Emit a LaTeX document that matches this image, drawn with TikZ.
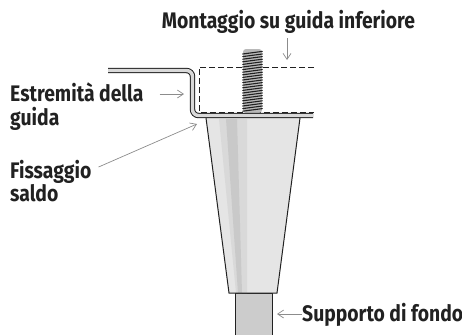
\documentclass[tikz,border=0pt]{standalone}
\usepackage{fontspec}
\setmainfont[FakeStretch=0.86]{Fira Sans}
\usetikzlibrary{arrows.meta}
\tikzset{>={Straight Barb[length=6pt, width=8pt]}}
\definecolor{ink}{gray}{.13}
\definecolor{conelight}{gray}{.9}
\definecolor{conemid}{gray}{.85}
\definecolor{conedark}{gray}{.79}
\definecolor{pipegray}{gray}{.8}
\definecolor{callgray}{gray}{.55}
\tikzset{
    label/.style={inner sep=0pt, font=\bfseries\fontsize{22.5}{23.5}\selectfont, text=ink, align=left},
    callout/.style={callgray, line width=.7pt},
}

\begin{document}
\begin{tikzpicture}[x=1pt, y=-1pt]
    \useasboundingbox(0, 0)rectangle(462, 335);
    % leg
    \fill[pipegray](235, 293)rectangle(272, 335);
    \draw[ink, line width=1pt](235, 335)--(235, 293)--(272, 293)--(272, 335);
    \fill[conelight](206, 118)--(300, 118)--(277, 293)--(229, 293)--cycle;
    \fill[conemid](219, 119)--(247, 119)--(247, 293)--(236, 293)--cycle;
    \fill[conedark](226, 119)--(237, 119)--(242, 293)--(238, 293)--cycle;
    \draw[ink, line width=1pt](206, 118)--(229, 293)--(277, 293)--(300, 118);
    % guide
    \draw[dash pattern=on 6pt off 3pt, ink, line width=.7pt](314, 67)--(199, 67)--(199, 112)--(314, 112);
    % screw
    \fill[gray!55, rounded corners=3pt](243, 113)--(243, 49)--(262, 49)--(262, 113)--cycle;
    \foreach \y in {54, 56.6, ..., 113}
        \draw[ink, line width=1.1pt, line cap=round](242.7, \y)--(262.3, \y-2.6);
    \draw[ink, line width=1pt, double=gray!30, double distance=3.4pt, rounded corners=6pt](108, 70.5)--(192.5, 70.5)--(192.5, 115.5)--(313, 115.5);
    % labels
    \node[label, anchor=base](montaggio)at(288.5, 28){Montaggio su guida inferiore};
    \node[label, anchor=north west](estremita)at(10, 83){Estremità della\\guida};
    \node[label, anchor=north west](fissaggio)at(10, 160){Fissaggio\\saldo};
    \node[label, anchor=base west](supporto)at(302, 321){Supporto di fondo};
    % callouts
    \coordinate(montaggiotip)at(287, 60);
    \coordinate(estremitatip)at(184, 94);
    \coordinate(fissaggiotip)at(197, 124);
    \draw[callout, ->](montaggio.south -| montaggiotip)++(0, 5)--(montaggiotip);
    \draw[callout, ->]([shift={(16, 0)}]estremita.east |- estremitatip)--(estremitatip);
    \draw[callout, ->]([shift={(7, 7)}]fissaggio.north east)--(fissaggiotip);
    \draw[callout, ->](supporto.west |- 0, 314)--(277, 314);
\end{tikzpicture}
\end{document}
